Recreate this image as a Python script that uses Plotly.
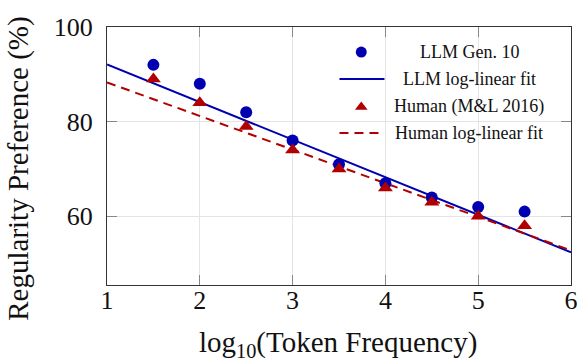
import numpy as np
import plotly.graph_objects as go

# ---- data ----
log_freq = [1.5, 2.0, 2.5, 3.0, 3.5, 4.0, 4.5, 5.0, 5.5]
llm_gen10 = [92, 88, 82, 76, 71, 67, 64, 62, 61]
human_ml2016 = [89, 84, 79, 74, 70, 66, 63, 60, 58]

llm_fit_coef = [100.0, -7.93]     # intercept, slope
human_fit_coef = [95.4, -7.1]     # intercept, slope
fit_x = [1, 6]

x_ticks = [1, 2, 3, 4, 5, 6]
y_ticks = [60, 80, 100]

legend_labels = ["LLM Gen. 10", "LLM log-linear fit", "Human (M&L 2016)", "Human log-linear fit"]

BLUE = "#0000B0"
RED = "#B00000"
FONT = "'Liberation Serif', 'Times New Roman', Times, serif"

fx = np.array(fit_x, dtype=float)
llm_fit_y = llm_fit_coef[0] + llm_fit_coef[1] * fx
human_fit_y = human_fit_coef[0] + human_fit_coef[1] * fx

fig = go.Figure()

fig.add_trace(go.Scatter(x=fx, y=llm_fit_y, mode="lines",
                         line=dict(color=BLUE, width=2), showlegend=False))
fig.add_trace(go.Scatter(x=fx, y=human_fit_y, mode="lines",
                         line=dict(color=RED, width=2, dash="9px,6px"), showlegend=False))
fig.add_trace(go.Scatter(x=log_freq, y=llm_gen10, mode="markers",
                         marker=dict(symbol="circle", size=12, color=BLUE), showlegend=False))
fig.add_trace(go.Scatter(x=log_freq, y=human_ml2016, mode="markers",
                         marker=dict(symbol="triangle-up", size=13, color=RED), showlegend=False))

# ---- custom legend (centered text, like pgfplots) on an overlay unit axis ----
leg_sym_x = 0.548
leg_line_x = [0.501, 0.598]
leg_rows = [0.903, 0.798, 0.690, 0.589]
leg_text_x = 0.781

fig.add_trace(go.Scatter(x=[leg_sym_x], y=[leg_rows[0]], xaxis="x2", yaxis="y2", mode="markers",
                         marker=dict(symbol="circle", size=11, color=BLUE), showlegend=False))
fig.add_trace(go.Scatter(x=leg_line_x, y=[leg_rows[1]] * 2, xaxis="x2", yaxis="y2", mode="lines",
                         line=dict(color=BLUE, width=2), showlegend=False))
fig.add_trace(go.Scatter(x=[leg_sym_x], y=[leg_rows[2]], xaxis="x2", yaxis="y2", mode="markers",
                         marker=dict(symbol="triangle-up", size=11, color=RED), showlegend=False))
fig.add_trace(go.Scatter(x=leg_line_x, y=[leg_rows[3]] * 2, xaxis="x2", yaxis="y2", mode="lines",
                         line=dict(color=RED, width=2, dash="9px,6px"), showlegend=False))

annotations = []
for lab, yy in zip(legend_labels, leg_rows):
    annotations.append(dict(text=lab, x=leg_text_x, y=yy, xref="paper", yref="paper",
                            xanchor="center", yanchor="middle", showarrow=False,
                            font=dict(family=FONT, size=18, color="#111111")))

annotations.append(dict(text="Regularity Preference (%)", x=-0.19, y=0.45, xref="paper", yref="paper",
                        xanchor="center", yanchor="middle", textangle=-90, showarrow=False,
                        font=dict(family=FONT, size=29, color="#111111")))
annotations.append(dict(text="log<sub>10</sub>(Token Frequency)", x=0.497, y=-0.23, xref="paper",
                        yref="paper", xanchor="center", yanchor="middle", showarrow=False,
                        font=dict(family=FONT, size=29, color="#111111")))

axis_common = dict(showline=True, linecolor="#333333", linewidth=1.2, mirror="ticks",
                   ticks="inside", ticklen=10, tickcolor="#888888", tickwidth=1.2,
                   showgrid=True, gridcolor="#e4e4e4", gridwidth=1, zeroline=False,
                   automargin=False, ticklabeloverflow="allow",
                   tickfont=dict(family=FONT, size=26, color="#111111"))

fig.update_layout(
    width=577, height=363,
    margin=dict(l=107, r=6, t=27, b=78),
    paper_bgcolor="white", plot_bgcolor="white",
    font=dict(family=FONT),
    xaxis=dict(range=[1, 6], tickvals=x_ticks, ticklabelstandoff=-8, **axis_common),
    yaxis=dict(range=[45.5, 100], tickvals=y_ticks, ticklabelstandoff=8, **axis_common),
    xaxis2=dict(range=[0, 1], overlaying="x", visible=False),
    yaxis2=dict(range=[0, 1], overlaying="y", visible=False),
    annotations=annotations,
    showlegend=False,
)

fig.write_html("out.html")
